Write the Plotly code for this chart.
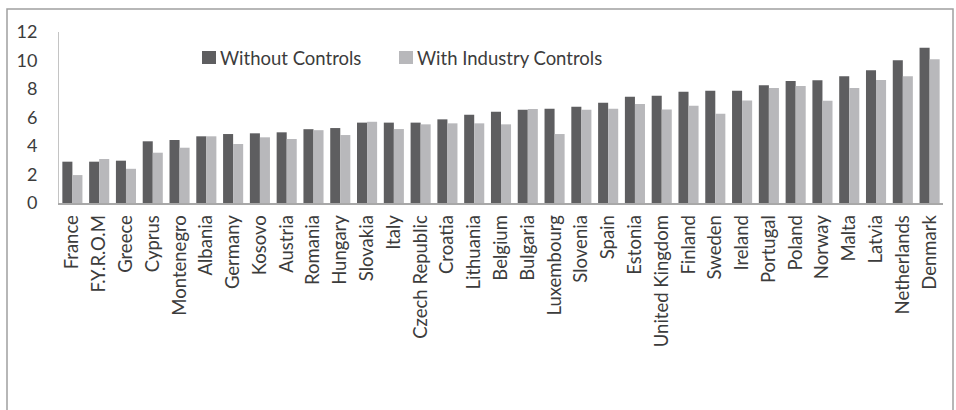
import plotly.graph_objects as go

countries = ["France", "F.Y.R.O.M", "Greece", "Cyprus", "Montenegro", "Albania", "Germany",
             "Kosovo", "Austria", "Romania", "Hungary", "Slovakia", "Italy", "Czech Republic",
             "Croatia", "Lithuania", "Belgium", "Bulgaria", "Luxembourg", "Slovenia", "Spain",
             "Estonia", "United Kingdom", "Finland", "Sweden", "Ireland", "Portugal", "Poland",
             "Norway", "Malta", "Latvia", "Netherlands", "Denmark"]
without_controls = [2.9, 2.9, 2.97, 4.33, 4.42, 4.68, 4.84, 4.89, 4.96, 5.18, 5.26, 5.64, 5.64,
                    5.64, 5.87, 6.2, 6.41, 6.55, 6.62, 6.76, 7.04, 7.45, 7.53, 7.81, 7.88, 7.88,
                    8.26, 8.56, 8.61, 8.89, 9.31, 10.01, 10.9]
with_industry = [1.96, 3.09, 2.4, 3.53, 3.88, 4.68, 4.14, 4.61, 4.49, 5.11, 4.77, 5.7, 5.19,
                 5.52, 5.59, 5.59, 5.52, 6.6, 4.84, 6.55, 6.62, 6.95, 6.57, 6.83, 6.27, 7.2,
                 8.07, 8.21, 7.18, 8.07, 8.63, 8.89, 10.08]
series_names = ["Without Controls", "With Industry Controls"]
series_colors = ["#5e5e60", "#b8b8bb"]
y_ticks = [0, 2, 4, 6, 8, 10, 12]

W, H = 956, 410
L, R, T, B = 59, 13, 32, 207
pw = W - L - R
ph = H - T - B

def px_to_paper_x(p):
    return (p - L) / pw

def px_to_paper_y(p):
    return (H - B - p) / ph

fig = go.Figure()
for name, vals, col in zip(series_names, [without_controls, with_industry], series_colors):
    fig.add_trace(go.Bar(name=name, x=countries, y=vals,
                         marker=dict(color=col, line=dict(width=0)), showlegend=False))

FONT = "Lato, 'Open Sans', sans-serif"
TXT = "#3c3c3c"

fig.update_layout(
    width=W, height=H,
    margin=dict(l=L, r=R, t=T, b=B, autoexpand=False),
    paper_bgcolor="white", plot_bgcolor="white",
    barmode="group", bargap=0.25, bargroupgap=0.0,
    font=dict(family=FONT, size=18, color=TXT),
    showlegend=False,
)
fig.update_xaxes(showline=True, linecolor="#a8a8a8", linewidth=1.5, tickangle=-90,
                 ticks="", showgrid=False, tickfont=dict(size=18.5, color=TXT),
                 ticklabelstandoff=3)
fig.update_yaxes(range=[0, 12], tickvals=y_ticks, showline=True, linecolor="#c4c4c4",
                 linewidth=1, showgrid=False, zeroline=False, ticks="",
                 tickfont=dict(size=18, color=TXT), ticklabelstandoff=17)

# custom legend: swatch + label
legend_x = [202, 399]
for (lx, name, col) in zip(legend_x, series_names, series_colors):
    fig.add_shape(type="rect", xref="paper", yref="paper",
                  x0=px_to_paper_x(lx), x1=px_to_paper_x(lx + 14),
                  y0=px_to_paper_y(64), y1=px_to_paper_y(51),
                  line=dict(width=0), fillcolor=col)
    fig.add_annotation(xref="paper", yref="paper", x=px_to_paper_x(lx + 16),
                       y=px_to_paper_y(57.5), text=name, showarrow=False,
                       xanchor="left", yanchor="middle",
                       font=dict(family=FONT, size=18.5, color=TXT))

fig.add_shape(type="rect", xref="paper", yref="paper",
              x0=px_to_paper_x(7), x1=px_to_paper_x(953),
              y0=px_to_paper_y(430), y1=px_to_paper_y(9),
              line=dict(color="#a0a0a0", width=1.5), fillcolor="rgba(0,0,0,0)", layer="below")

fig.write_html("out.html", config={"displayModeBar": False},
               post_script="document.body.style.margin='0';")
